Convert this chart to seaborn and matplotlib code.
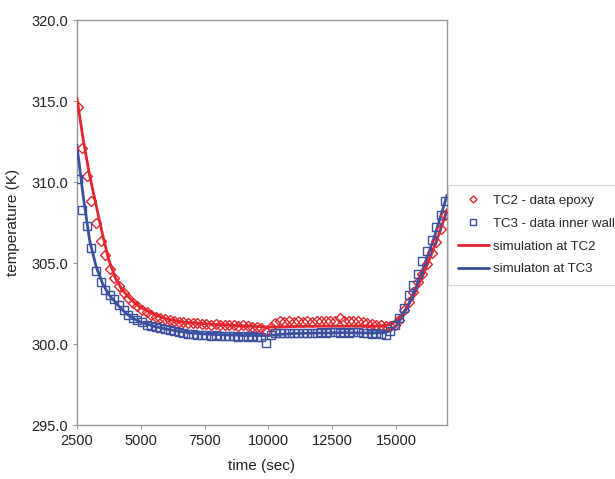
import matplotlib
matplotlib.use("Agg")
import matplotlib.pyplot as plt
import seaborn as sns
import pandas as pd

# ---- data ----
time_data = [2530, 2710, 2890, 3070, 3250, 3430, 3610, 3790, 3970, 4150,
             4330, 4510, 4690, 4870, 5050, 5230, 5410, 5590, 5770, 5950,
             6130, 6310, 6490, 6670, 6850, 7030, 7210, 7390, 7570, 7750,
             7930, 8110, 8290, 8470, 8650, 8830, 9010, 9190, 9370, 9550,
             9730, 9910, 10090, 10270, 10450, 10630, 10810, 10990, 11170, 11350,
             11530, 11710, 11890, 12070, 12250, 12430, 12610, 12790, 12970, 13150,
             13330, 13510, 13690, 13870, 14050, 14230, 14410, 14590, 14770, 14950,
             15130, 15310, 15490, 15670, 15850, 16030, 16210, 16390, 16570, 16750,
             16930]

tc2_epoxy = [314.65, 312.1, 310.35, 308.85, 307.5, 306.35, 305.5, 304.6, 304.05, 303.58,
             303.12, 302.84, 302.55, 302.32, 302.1, 301.95, 301.82, 301.68, 301.58, 301.52,
             301.47, 301.43, 301.38, 301.35, 301.3, 301.3, 301.28, 301.22, 301.25, 301.2,
             301.22, 301.18, 301.2, 301.15, 301.18, 301.12, 301.15, 301.1, 301.05, 301.05,
             301.0, 300.8, 301.05, 301.3, 301.4, 301.38, 301.42, 301.38, 301.42, 301.38,
             301.42, 301.38, 301.4, 301.45, 301.4, 301.45, 301.42, 301.6, 301.45, 301.42,
             301.4, 301.42, 301.38, 301.3, 301.25, 301.2, 301.15, 301.1, 301.1, 301.15,
             301.5, 302.1, 302.6, 303.2, 303.8, 304.3, 304.95, 305.6, 306.3, 307.1,
             307.95]

tc3_inner = [310.2, 308.3, 307.3, 305.9, 304.5, 303.8, 303.35, 303.0, 302.75, 302.38,
             302.08, 301.8, 301.6, 301.46, 301.33, 301.2, 301.1, 301.04, 300.98, 300.9,
             300.84, 300.78, 300.72, 300.68, 300.64, 300.6, 300.58, 300.55, 300.58, 300.52,
             300.55, 300.5, 300.52, 300.47, 300.5, 300.45, 300.48, 300.44, 300.47, 300.42,
             300.45, 300.05, 300.55, 300.66, 300.7, 300.66, 300.7, 300.66, 300.7, 300.65,
             300.7, 300.66, 300.7, 300.72, 300.66, 300.72, 300.75, 300.7, 300.75, 300.7,
             300.72, 300.75, 300.7, 300.66, 300.62, 300.66, 300.6, 300.56, 300.8, 301.15,
             301.6, 302.25, 303.0, 303.65, 304.3, 305.1, 305.75, 306.4, 307.2, 307.95,
             308.8]

time_sim = [2500, 2750, 3000, 3250, 3500, 3750, 4000, 4250, 4500, 4750,
            5000, 5500, 6000, 6500, 7000, 7500, 8000, 9000, 10000, 10500,
            11000, 12000, 13000, 14000, 14500, 14750, 15000, 15250, 15500, 15750,
            16000, 16250, 16500, 16750, 17000]

sim_tc2 = [315.2, 312.6, 310.4, 308.6, 306.8, 305.2, 304.1, 303.4, 302.95, 302.55,
           302.25, 301.85, 301.55, 301.38, 301.3, 301.25, 301.2, 301.12, 301.05, 301.05,
           301.08, 301.1, 301.1, 301.1, 301.12, 301.2, 301.4, 301.85, 302.45, 303.2,
           304.05, 305.0, 306.0, 307.1, 308.3]

sim_tc3 = [312.3, 309.1, 306.4, 304.8, 303.75, 303.05, 302.6, 302.15, 301.8, 301.55,
           301.35, 301.1, 300.92, 300.78, 300.68, 300.62, 300.58, 300.53, 300.52, 300.6,
           300.65, 300.68, 300.7, 300.68, 300.7, 300.8, 301.1, 301.7, 302.5, 303.4,
           304.4, 305.5, 306.6, 307.9, 309.2]

x_ticks = [2500, 5000, 7500, 10000, 12500, 15000]
y_ticks = [295.0, 300.0, 305.0, 310.0, 315.0, 320.0]

labels = ["TC2 - data epoxy", "TC3 - data inner wall",
          "simulation at TC2", "simulaton at TC3"]

RED = "#e3262d"
BLUE = "#3b4f9f"

# ---- style ----
sns.set_style("white")
plt.rcParams["font.family"] = ["Liberation Sans", "DejaVu Sans"]

fig = plt.figure(figsize=(6.15, 4.79), dpi=100)
ax = fig.add_axes([0.125, 0.1127, 0.602, 0.8455])

df_data = pd.DataFrame({"t": time_data, "tc2": tc2_epoxy, "tc3": tc3_inner})
df_sim = pd.DataFrame({"t": time_sim, "s2": sim_tc2, "s3": sim_tc3})

sns.lineplot(data=df_sim, x="t", y="s2", ax=ax, color=RED, linewidth=2.0,
             label=labels[2], zorder=3)
sns.lineplot(data=df_sim, x="t", y="s3", ax=ax, color=BLUE, linewidth=2.0,
             label=labels[3], zorder=3)
sns.lineplot(data=df_data, x="t", y="tc2", ax=ax, color=RED, linestyle="",
             marker="D", markersize=4.8, markerfacecolor="none",
             markeredgecolor=RED, markeredgewidth=1.0, label=labels[0], zorder=4)
sns.lineplot(data=df_data, x="t", y="tc3", ax=ax, color=BLUE, linestyle="",
             marker="s", markersize=5.2, markerfacecolor="none",
             markeredgecolor=BLUE, markeredgewidth=1.0, label=labels[1], zorder=4)

ax.set_xlim(2500, 17000)
ax.set_ylim(295, 320)
ax.set_xticks(x_ticks)
ax.set_xticklabels([str(v) for v in x_ticks])
ax.set_yticks(y_ticks)
ax.set_yticklabels([f"{v:.1f}" for v in y_ticks])
ax.tick_params(axis="both", labelsize=10.5, length=3, direction="out",
               bottom=True, left=True, width=0.8,
               colors="#999999", labelcolor="#222222")

for s in ax.spines.values():
    s.set_color("#999999")
    s.set_linewidth(1.0)

ax.set_xlabel("time (sec)", fontsize=11, color="#222222", labelpad=8)
ax.set_ylabel("temperature (K)", fontsize=11, color="#222222", labelpad=8)

handles, labs = ax.get_legend_handles_labels()
order = [labs.index(l) for l in labels]
leg = ax.legend([handles[i] for i in order], [labs[i] for i in order],
                loc="upper left", bbox_to_anchor=(0.729, 0.614),
                bbox_transform=fig.transFigure, fontsize=9.5, frameon=True,
                fancybox=False, edgecolor="#cccccc", borderpad=0.75,
                handlelength=2.3, handletextpad=0.3, labelspacing=0.8,
                markerscale=0.75, borderaxespad=0)
leg.get_frame().set_linewidth(0.8)

fig.savefig("out.png", dpi=100)
